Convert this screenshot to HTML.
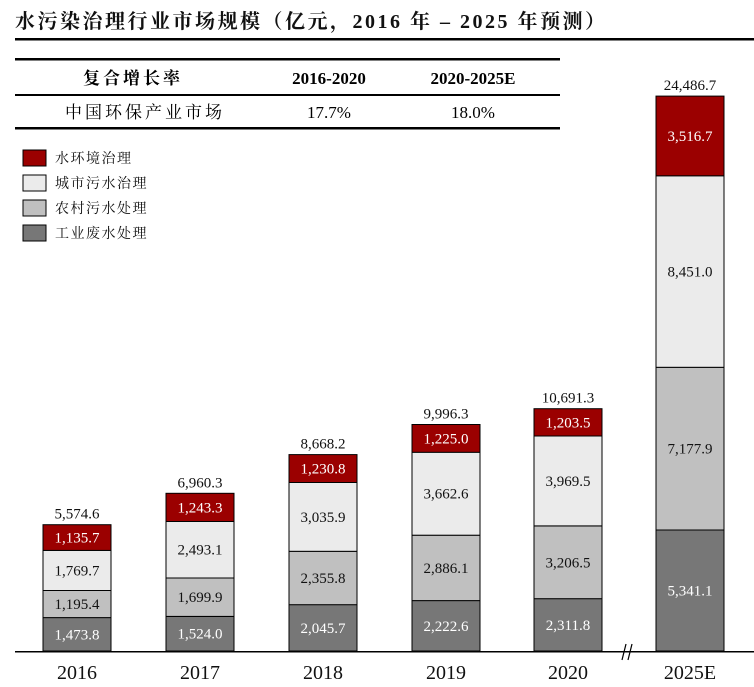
<!DOCTYPE html>
<html><head><meta charset="utf-8">
<style>
html,body{margin:0;padding:0;background:#fff;}
svg{display:block;font-family:"Liberation Serif","Noto Serif CJK SC",serif;}
</style></head><body>
<svg id="s" width="754" height="687" viewBox="0 0 754 687" xmlns="http://www.w3.org/2000/svg">
<text x="15" y="28" font-size="20" font-weight="bold" fill="#111" letter-spacing="2.5">水污染治理行业市场规模（亿元，2016 年 – 2025 年预测）</text>
<rect x="15" y="38" width="739" height="2.5" fill="#000"/>
<rect x="15" y="58" width="545" height="2.5" fill="#000"/>
<rect x="15" y="94" width="545" height="2" fill="#000"/>
<rect x="15" y="127" width="545" height="2.5" fill="#000"/>
<text x="133" y="84" font-size="17" font-weight="bold" text-anchor="middle" letter-spacing="3">复合增长率</text>
<text x="329" y="84" font-size="17" font-weight="bold" text-anchor="middle">2016-2020</text>
<text x="473" y="84" font-size="17" font-weight="bold" text-anchor="middle">2020-2025E</text>
<text x="145" y="118" font-size="17" text-anchor="middle" letter-spacing="3">中国环保产业市场</text>
<text x="329" y="118" font-size="17" text-anchor="middle">17.7%</text>
<text x="473" y="118" font-size="17" text-anchor="middle">18.0%</text>
<g font-size="14" stroke="#000" stroke-width="1">
<rect x="23" y="150" width="23" height="16" fill="#9b0000"/>
<rect x="23" y="175" width="23" height="16" fill="#ebebeb"/>
<rect x="23" y="200" width="23" height="16" fill="#c0c0c0"/>
<rect x="23" y="225" width="23" height="16" fill="#777"/>
</g>
<g font-size="14" fill="#111" letter-spacing="1.5">
<text x="55" y="163">水环境治理</text>
<text x="55" y="188">城市污水治理</text>
<text x="55" y="213">农村污水处理</text>
<text x="55" y="238">工业废水处理</text>
</g>
<g id="bars"></g>
<rect x="15" y="651" width="739" height="1.5" fill="#000"/>
<line x1="622" y1="660" x2="626" y2="644" stroke="#000" stroke-width="1.2"/>
<line x1="628" y1="660" x2="632" y2="644" stroke="#000" stroke-width="1.2"/>
</svg>
<script>
var d=[["2016",43,[1473.8,1195.4,1769.7,1135.7],"5,574.6"],
["2017",166,[1524.0,1699.9,2493.1,1243.3],"6,960.3"],
["2018",289,[2045.7,2355.8,3035.9,1230.8],"8,668.2"],
["2019",412,[2222.6,2886.1,3662.6,1225.0],"9,996.3"],
["2020",534,[2311.8,3206.5,3969.5,1203.5],"10,691.3"],
["2025E",656,[5341.1,7177.9,8451.0,3516.7],"24,486.7"]];
var cols=["#777","#c0c0c0","#ebebeb","#9b0000"],tc=["#fff","#111","#111","#fff"];
var k=0.02266,base=651,w=68,h="";
function f(v){var s=v.toFixed(1).split(".");return s[0].replace(/\B(?=(\d{3})+(?!\d))/g,",")+"."+s[1];}
d.forEach(function(b){var y=base;b[2].forEach(function(v,i){var hh=v*k;y-=hh;
h+='<rect x="'+b[1]+'" y="'+y.toFixed(1)+'" width="'+w+'" height="'+hh.toFixed(1)+'" fill="'+cols[i]+'" stroke="#000" stroke-width="1"/>';
h+='<text x="'+(b[1]+w/2)+'" y="'+(y+hh/2+5).toFixed(1)+'" font-size="15" text-anchor="middle" fill="'+tc[i]+'">'+f(v)+'</text>';});
h+='<text x="'+(b[1]+w/2)+'" y="'+(y-6).toFixed(1)+'" font-size="15" text-anchor="middle" fill="#111">'+b[3]+'</text>';
h+='<text x="'+(b[1]+w/2)+'" y="679" font-size="20" text-anchor="middle" fill="#111">'+b[0]+'</text>';});
document.getElementById("bars").innerHTML=h;
</script>
</body></html>
